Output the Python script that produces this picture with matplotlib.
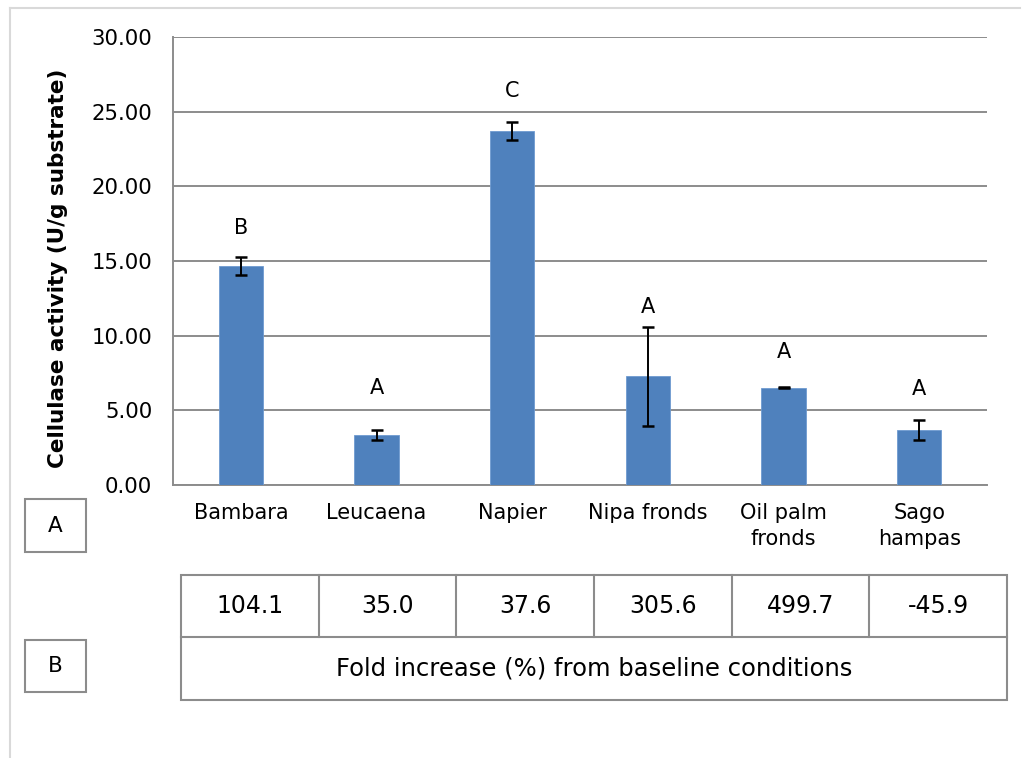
import matplotlib
matplotlib.use("Agg")
import matplotlib.pyplot as plt
from matplotlib.patches import Rectangle
from matplotlib.lines import Line2D

categories = ["Bambara", "Leucaena", "Napier", "Nipa fronds", "Oil palm\nfronds", "Sago\nhampas"]
activity = [14.69, 3.33, 23.68, 7.27, 6.52, 3.70]
errors = [0.60, 0.33, 0.60, 3.32, 0.05, 0.66]
letters = ["B", "A", "C", "A", "A", "A"]
letter_y = [17.2, 6.5, 26.4, 11.9, 8.9, 6.4]
fold_increase = ["104.1", "35.0", "37.6", "305.6", "499.7", "-45.9"]
table_caption = "Fold increase (%) from baseline conditions"
yticks = [0, 5, 10, 15, 20, 25, 30]

W, H = 1028, 758
fig = plt.figure(figsize=(W / 100, H / 100), dpi=100)
plt.rcParams['font.family'] = ['DejaVu Sans']

def fx(px):
    return px / W

def fy(py):
    return 1 - py / H

ax = fig.add_axes([fx(173), fy(485), fx(987) - fx(173), fy(37) - fy(485)])
x = list(range(len(categories)))
ax.bar(x, activity, width=0.325, color="#4F81BD", edgecolor="#6F9BD1", linewidth=0.6, zorder=3)
ax.errorbar(x, activity, yerr=errors, fmt="none", ecolor="black", elinewidth=1.4,
            capsize=4.5, capthick=1.8, zorder=4)
for xi, lab, ly in zip(x, letters, letter_y):
    ax.text(xi, ly, lab, ha="center", va="center", fontsize=15, color="black")

ax.set_xlim(-0.5, len(categories) - 0.5)
ax.set_ylim(0, 30)
ax.set_yticks(yticks)
ax.set_yticklabels([f"{v:.2f}" for v in yticks])
ax.set_xticks(x)
ax.set_xticklabels(categories, linespacing=1.4)
ax.tick_params(axis="y", length=0, pad=15, labelsize=15.3)
ax.tick_params(axis="x", length=0, pad=13, labelsize=15)
ax.grid(axis="y", color="#8c8c8c", linewidth=1.4, zorder=0)
ax.set_axisbelow(True)
for s in ["top", "right"]:
    ax.spines[s].set_visible(False)
for s in ["left", "bottom"]:
    ax.spines[s].set_color("#8c8c8c")
    ax.spines[s].set_linewidth(1.4)

fig.text(fx(58), fy(268), "Cellulase activity (U/g substrate)", rotation=90,
         ha="center", va="center", fontsize=15.5, fontweight="bold")

# outer frame lines
fig.add_artist(Line2D([fx(10), fx(1020)], [fy(8), fy(8)], color="#d9d9d9", lw=1.5))
fig.add_artist(Line2D([fx(10), fx(10)], [fy(8), fy(758)], color="#d9d9d9", lw=1.5))

# side boxes A and B
for lab, top, bot in [("A", 499, 552), ("B", 640, 692)]:
    fig.add_artist(Rectangle((fx(25), fy(bot)), fx(86) - fx(25), fy(top) - fy(bot),
                             fill=False, edgecolor="#8c8c8c", lw=1.5))
    fig.text(fx(55.5), fy((top + bot) / 2), lab, ha="center", va="center", fontsize=15.5)

# table
tl, tr = 181, 1007
r0, r1, r2 = 575, 637, 700
cw = (tr - tl) / len(fold_increase)
fig.add_artist(Rectangle((fx(tl), fy(r2)), fx(tr) - fx(tl), fy(r0) - fy(r2),
                         fill=False, edgecolor="#8c8c8c", lw=1.5))
fig.add_artist(Line2D([fx(tl), fx(tr)], [fy(r1), fy(r1)], color="#8c8c8c", lw=1.5))
for i, val in enumerate(fold_increase):
    if i > 0:
        xc = tl + i * cw
        fig.add_artist(Line2D([fx(xc), fx(xc)], [fy(r0), fy(r1)], color="#8c8c8c", lw=1.5))
    fig.text(fx(tl + (i + 0.5) * cw), fy((r0 + r1) / 2), val, ha="center", va="center", fontsize=17)
fig.text(fx((tl + tr) / 2), fy((r1 + r2) / 2), table_caption, ha="center", va="center", fontsize=17.5)

fig.savefig("out.png", dpi=100, facecolor="white")
